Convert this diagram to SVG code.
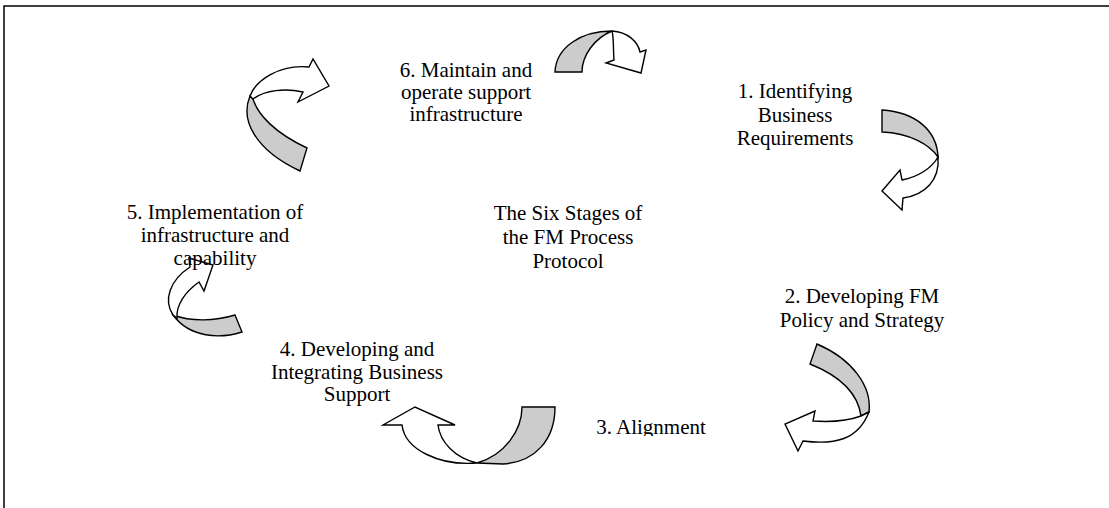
<svg xmlns="http://www.w3.org/2000/svg" width="1109" height="508" viewBox="0 0 1109 508">
<style>
text{font-family:"Liberation Serif","Times New Roman",serif;font-size:21px;fill:#000;text-anchor:middle}
.g{fill:#cccccc;stroke:#000;stroke-width:1.4;stroke-linejoin:miter}
.w{fill:#fff;stroke:#000;stroke-width:1.4;stroke-linejoin:miter}
</style>
<defs><clipPath id="c3"><rect x="560" y="400" width="200" height="36"/></clipPath></defs>
<rect width="1109" height="508" fill="#fff"/>
<path d="M4,508 V6 H1109" fill="none" stroke="#000" stroke-width="1.5"/>
<g id="connectors">
<g id="arrow-6-1">
<path class="g" d="M555,72 C556,48 580,31 612,31 C595,38 582,55 582,72 Z"/>
<path class="w" d="M612,31 C628,32 638,42 640,52 L646,50 L641,73 L606,63 L614,60 C613,48 614,38 612,31 Z"/>
</g>
<g id="arrow-1-2">
<path class="g" d="M882,110 C915,112 937,130 938,157 C930,145 910,133 882,132 Z"/>
<path class="w" d="M938,157 C940,180 925,195 903,198 L902,210 L882,191 L900,170 L902,180 C918,177 932,168 938,157 Z"/>
</g>
<g id="arrow-2-3">
<path class="g" d="M817,344 C852,359 872,386 869,412 L861,416 C858,394 840,376 810,364 Z"/>
<path class="w" d="M861,416 C845,422 828,422 813,421 L815,411 L785,424 L798,451 L803,441 C835,445 858,440 869,412 Z"/>
</g>
<g id="arrow-3-4">
<path class="g" d="M522,407 L555,407 C555,440 535,462 503,464 L477,463 C505,455 522,430 522,407 Z"/>
<path class="w" d="M477,463 C440,466 405,450 402,425 L383,425 L415,407 L455,425 L438,425 C440,442 455,458 477,463 Z"/>
</g>
<g id="arrow-4-5">
<path class="g" d="M235,315 L242,332 C220,339 190,338 173,315 C192,322 215,321 235,315 Z"/>
<path class="w" d="M173,315 C163,300 170,280 190,267 L189,258 L213,265 L204,291 L199,282 C185,292 176,305 177,318 Z"/>
</g>
<g id="arrow-5-6">
<path class="g" d="M250,96 C240,120 255,150 300,171 L307,148 C275,133 258,115 253,99 Z"/>
<path class="w" d="M250,96 C256,80 280,64 309,67 L313,59 L329,86 L298,102 L303,92 C285,88 265,90 253,99 Z"/>
</g>
</g>
<g id="stage6"><text x="466" y="77">6. Maintain and</text><text x="466" y="99">operate support</text><text x="466" y="121">infrastructure</text></g>
<g id="stage1"><text x="795" y="98">1. Identifying</text><text x="795" y="122">Business</text><text x="795" y="145">Requirements</text></g>
<g id="stage5"><text x="215" y="219">5. Implementation of</text><text x="215" y="242">infrastructure and</text><text x="215" y="265">capability</text></g>
<g id="title"><text x="568" y="220">The Six Stages of</text><text x="568" y="244">the FM Process</text><text x="568" y="268">Protocol</text></g>
<g id="stage2"><text x="862" y="303">2. Developing FM</text><text x="862" y="327">Policy and Strategy</text></g>
<g id="stage3" clip-path="url(#c3)"><text x="651" y="434">3. Alignment</text></g>
<g id="stage4"><text x="357" y="356">4. Developing and</text><text x="357" y="379">Integrating Business</text><text x="357" y="401">Support</text></g>
</svg>
